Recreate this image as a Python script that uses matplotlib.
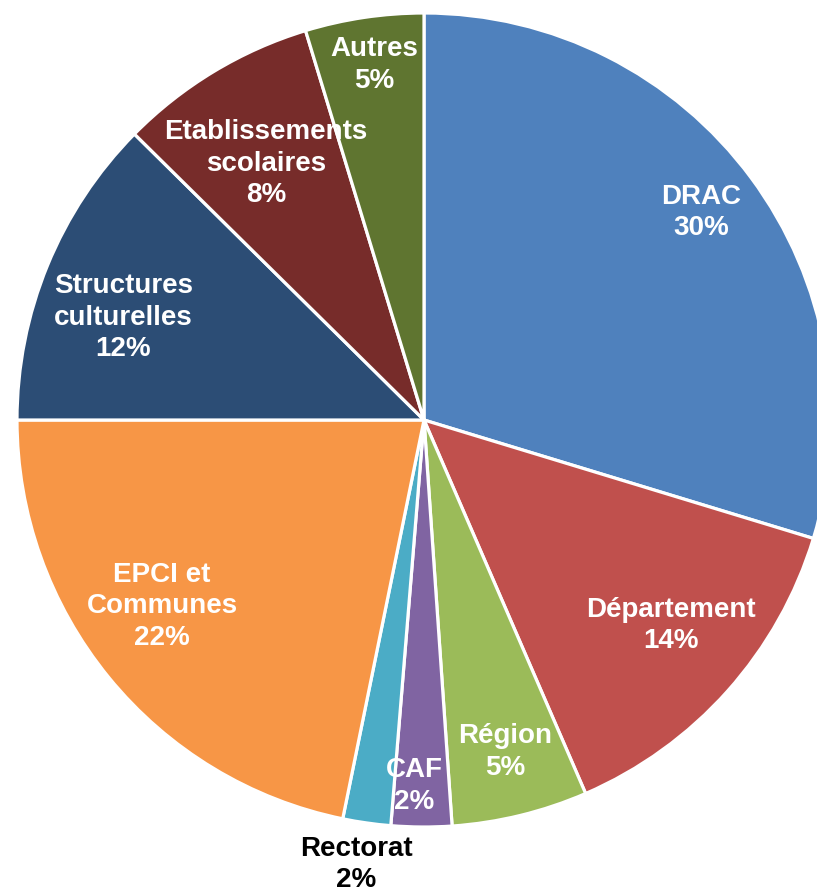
import numpy as np
import matplotlib
matplotlib.use('Agg')
import matplotlib.pyplot as plt

# data
names = ['DRAC', 'Département', 'Région', 'CAF', 'Rectorat', 'EPCI et\nCommunes',
         'Structures\nculturelles', 'Etablissements\nscolaires', 'Autres']
values = [29.7, 13.8, 5.4, 2.4, 1.9, 21.8, 12.4, 7.9, 4.7]
colors = ['#4F81BD', '#C0504D', '#9BBB59', '#8064A2', '#4BACC6', '#F79646',
          '#2C4D75', '#772C2A', '#5F7530']

# label placement (fraction of radius, angle nudge in degrees)
label_dist = [0.85, 0.79, 0.84, 0.90, 1.105, 0.79, 0.78, 0.74, 0.88]
label_nudge = [0.3, 2.0, 0.0, -1.2, -0.6, -3.8, 3.5, 0.5, -0.5]

W, H = 817, 896
fig = plt.figure(figsize=(W / 100, H / 100), dpi=100)
ax = fig.add_axes([0, 0, 1, 1])

cx, cy, r = 424, H - 420, 407
wedges, _ = ax.pie(values, colors=colors, startangle=90, counterclock=False,
                   center=(cx, cy), radius=r, frame=True,
                   wedgeprops=dict(edgecolor='white', linewidth=2.3))
ax.set_xlim(0, W)
ax.set_ylim(0, H)
ax.set_aspect('equal')
ax.axis('off')

total = sum(values)
for w, name, v, d, n in zip(wedges, names, values, label_dist, label_nudge):
    mid = np.deg2rad((w.theta1 + w.theta2) / 2 + n)
    x = cx + d * r * np.cos(mid)
    y = cy + d * r * np.sin(mid)
    col = 'black' if name == 'Rectorat' else 'white'
    ax.text(x, y, f'{name}\n{round(v / total * 100):.0f}%', ha='center', va='center',
            color=col, fontsize=20, fontweight='bold', family='Liberation Sans',
            linespacing=1.28, clip_on=False)

fig.savefig('out.png', dpi=100)
